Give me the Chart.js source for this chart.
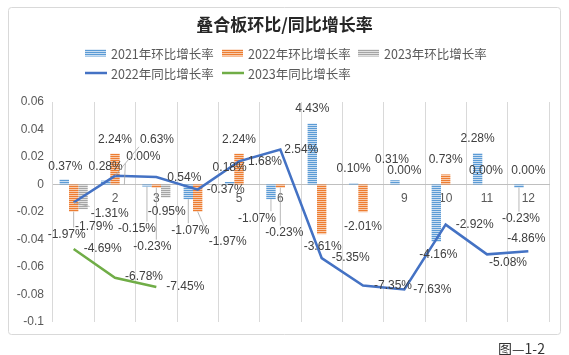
<!DOCTYPE html>
<html><head><meta charset="utf-8">
<style>
html,body{margin:0;padding:0;background:#fff;}
#wrap{position:relative;width:569px;height:355px;overflow:hidden;}
#note{position:absolute;left:498px;top:341px;font:14px "Noto Sans CJK SC";line-height:14px;color:#333;}
</style>
<script src="https://cdn.jsdelivr.net/npm/chart.js@4"></script>
</head><body>
<div id="wrap"><canvas id="c" width="569" height="355"></canvas><div id="note">图—1-2</div></div>
<script>
// ---- data (percent values) ----
const categories = ['1','2','3','4','5','6','7','8','9','10','11','12'];
const mom2021 = [0.37, 0.28, -0.15, -1.07, 0.18, -1.07, 4.43, 0.10, 0.31, -4.16, 2.28, -0.23];
const mom2022 = [-1.97, 2.24, -0.23, -1.97, 2.24, -0.23, -3.61, -2.01, 0.00, 0.73, 0.00, 0.00];
const mom2023 = [-1.79, 0.00, -0.95, null, null, null, null, null, null, null, null, null];
const yoy2022 = [-1.31, 0.63, 0.54, -0.37, 1.68, 2.54, -5.35, -7.35, -7.63, -2.92, -5.08, -4.86];
const yoy2023 = [-4.69, -6.78, -7.45, null, null, null, null, null, null, null, null, null];
const yTickLabels = ['0.06','0.04','0.02','0','-0.02','-0.04','-0.06','-0.08','-0.1'];
const seriesNames = ['2021年环比增长率','2022年环比增长率','2023年环比增长率','2022年同比增长率','2023年同比增长率'];
const titleText = '叠合板环比/同比增长率';

// ---- label placement (pixel offsets from each mark's anchor) ----
const labelOffsets = [
  [[1,-13],[0,-14],[-10,42],[2,31],[0,-14],[-14,19],[0,-15],[0,-14],[-3,-21],[2,13],[0,-14],[2,31]],
  [[-7,23],[0,-14],[-4,59],[30,30],[0,-14],[4,45],[1,13],[0,15],[0,-14],[0,-15],[-1,-14],[0,-14]],
  [[11,18],[19,-28],[1,14]],
  [[36,11],[42,-36],[28,1],[28,0],[26,0],[21,0],[29,0],[30,0],[28,0],[29,0],[21,8],[-2,-13]],
  [[29,0],[29,-1],[29,0]]
];
const leaderIdx = [[2,3,5,11],[0,2,3,5],[1],[0,1],[]];

function stripe(color, light){
  const c = document.createElement('canvas'); c.width = 4; c.height = 2;
  const x = c.getContext('2d');
  x.fillStyle = light; x.fillRect(0,0,4,2);
  x.fillStyle = color; x.fillRect(0,0,4,1);
  return x.createPattern(c,'repeat');
}
const pBlue = stripe('#5B9BD5', '#C9DDF1');
const pOrange = stripe('#ED7D31', '#F8CBAD');
const pGrey = stripe('#A5A5A5', '#E2E2E2');
const toFrac = a => a.map(v => v === null ? null : v / 100);

const decor = {
  id: 'decor',
  beforeDraw(chart){
    const ctx = chart.ctx;
    ctx.save();
    ctx.fillStyle = '#fff'; ctx.fillRect(0,0,chart.width,chart.height);
    ctx.strokeStyle = '#D9D9D9'; ctx.lineWidth = 1;
    ctx.beginPath(); ctx.roundRect(8.5,7.5,552,327,3); ctx.stroke();
    ctx.restore();
  },
  afterDraw(chart){
    const ctx = chart.ctx;
    ctx.save();
    // title
    ctx.font = 'bold 17px "Noto Sans CJK SC"';
    ctx.fillStyle = '#262626'; ctx.textAlign = 'center'; ctx.textBaseline = 'middle';
    ctx.fillText(titleText, 284.5, 25);
    // legend
    const ds = chart.data.datasets;
    const slots = [[85,53],[222,53],[358,53],[85,73],[222,73]];
    ctx.font = '12.5px "Noto Sans CJK SC"'; ctx.textAlign = 'left';
    ds.forEach((d,i) => {
      const [x,y] = slots[i];
      if (d.type === 'bar'){ ctx.fillStyle = d.backgroundColor; ctx.fillRect(x, y-3.5, 21, 7); }
      else { ctx.strokeStyle = d.borderColor; ctx.lineWidth = 2.5; ctx.beginPath(); ctx.moveTo(x, y); ctx.lineTo(x+22, y); ctx.stroke(); }
      ctx.fillStyle = '#595959';
      ctx.fillText(d.label, x+26, y+1);
    });
    // data labels
    ctx.font = '12px "Liberation Sans"';
    ctx.textAlign = 'center'; ctx.textBaseline = 'middle';
    ds.forEach((d,di) => {
      const meta = chart.getDatasetMeta(di);
      d.rawValues.forEach((v,i) => {
        if (v === null) return;
        const el = meta.data[i];
        const off = labelOffsets[di][i];
        const lx = el.x + off[0], ly = el.y + off[1];
        const txt = v.toFixed(2) + '%';
        if (leaderIdx[di].includes(i)){
          const hw = ctx.measureText(txt).width/2 + 1, hh = 7;
          const tx = Math.max(lx-hw, Math.min(el.x, lx+hw));
          const ty = Math.max(ly-hh, Math.min(el.y, ly+hh));
          ctx.strokeStyle = '#A6A6A6'; ctx.lineWidth = 0.8;
          ctx.beginPath(); ctx.moveTo(el.x, el.y); ctx.lineTo(tx, ty); ctx.stroke();
        }
        ctx.fillStyle = '#404040';
        ctx.fillText(txt, lx, ly);
      });
    });
    ctx.restore();
  }
};

new Chart(document.getElementById('c'), {
  data: {
    labels: categories,
    datasets: [
      {type:'bar', label: seriesNames[0], data: toFrac(mom2021), rawValues: mom2021, backgroundColor: pBlue, borderWidth: 0, categoryPercentage: 0.68, barPercentage: 1, order: 2},
      {type:'bar', label: seriesNames[1], data: toFrac(mom2022), rawValues: mom2022, backgroundColor: pOrange, borderWidth: 0, categoryPercentage: 0.68, barPercentage: 1, order: 2},
      {type:'bar', label: seriesNames[2], data: toFrac(mom2023), rawValues: mom2023, backgroundColor: pGrey, borderWidth: 0, categoryPercentage: 0.68, barPercentage: 1, order: 2},
      {type:'line', label: seriesNames[3], data: toFrac(yoy2022), rawValues: yoy2022, borderColor: '#4472C4', borderWidth: 2.5, pointRadius: 0, fill: false, tension: 0, order: 1},
      {type:'line', label: seriesNames[4], data: toFrac(yoy2023), rawValues: yoy2023, borderColor: '#70AD47', borderWidth: 2.5, pointRadius: 0, fill: false, tension: 0, order: 1}
    ]
  },
  options: {
    responsive: false, animation: false, devicePixelRatio: 1,
    layout: {padding: {left: 8, right: 20, top: 102, bottom: 33}},
    plugins: {legend: {display: false}, tooltip: {enabled: false}, title: {display: false}},
    scales: {
      x: {
        type: 'category', offset: true, position: {y: 0},
        grid: {offset: true, color: '#D9D9D9', lineWidth: 1, drawTicks: false},
        border: {color: '#BFBFBF', width: 1},
        ticks: {padding: 7, color: '#595959', font: {family: 'Liberation Sans', size: 12}, maxRotation: 0},
        afterFit: s => { s.height = 0; }
      },
      y: {
        min: -0.1, max: 0.06,
        grid: {display: false, drawTicks: false},
        border: {display: false},
        ticks: {stepSize: 0.02, padding: 9, color: '#595959', font: {family: 'Liberation Sans', size: 12},
          callback: v => { const s = yTickLabels.find(t => Math.abs(parseFloat(t) - v) < 1e-9); return s === undefined ? '' : s; }},
        afterFit: s => { s.width = 45; }
      }
    }
  },
  plugins: [decor]
});
</script>
</body></html>
